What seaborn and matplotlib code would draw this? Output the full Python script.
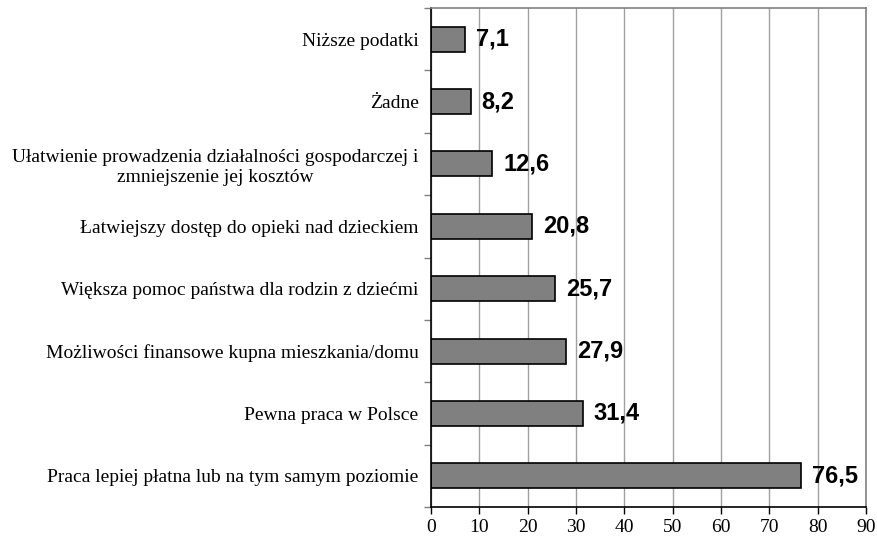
import matplotlib
matplotlib.use("Agg")
import matplotlib.pyplot as plt
import seaborn as sns
import pandas as pd
import numpy as np
from matplotlib.ticker import MultipleLocator, FixedLocator

categories = [
    "Niższe podatki",
    "Żadne",
    "Ułatwienie prowadzenia działalności gospodarczej i\nzmniejszenie jej kosztów",
    "Łatwiejszy dostęp do opieki nad dzieckiem",
    "Większa pomoc państwa dla rodzin z dziećmi",
    "Możliwości finansowe kupna mieszkania/domu",
    "Pewna praca w Polsce",
    "Praca lepiej płatna lub na tym samym poziomie",
]
values = [7.1, 8.2, 12.6, 20.8, 25.7, 27.9, 31.4, 76.5]
value_labels = ["7,1", "8,2", "12,6", "20,8", "25,7", "27,9", "31,4", "76,5"]

sns.set_style("white")
plt.rcParams["text.color"] = "black"
plt.rcParams["xtick.color"] = "black"
plt.rcParams["ytick.color"] = "black"
df = pd.DataFrame({"cat": categories, "val": values})

fig = plt.figure(figsize=(8.77, 5.37), dpi=100)
ax = fig.add_axes([431/877, 1-507/537, (866-431)/877, (507-8)/537])

sns.barplot(data=df, y="cat", x="val", orient="h", color="#808080",
            edgecolor="black", linewidth=1.2, width=0.4, saturation=1, ax=ax)

ax.set_xlim(0, 90)
ax.set_ylim(len(categories) - 0.5, -0.5)
ax.xaxis.set_major_locator(MultipleLocator(10))
ax.grid(axis="x", color="#a0a0a0", linewidth=1)
ax.set_axisbelow(True)
ax.set_xlabel("")
ax.set_ylabel("")

for i, (v, lab) in enumerate(zip(values, value_labels)):
    ax.annotate(lab, xy=(v, i), xytext=(8, 0), textcoords="offset points",
                ha="left", va="center", fontsize=17, fontweight="bold",
                family="Liberation Sans", color="black")

ax.set_yticks(range(len(categories)))
ax.set_yticklabels(categories, fontsize=14, family="Liberation Serif",
                   ha="right", multialignment="center", color="black")
ax.tick_params(axis="y", which="major", left=True, length=0, pad=9)
ax.yaxis.set_minor_locator(FixedLocator(np.arange(-0.5, len(categories), 1)))
ax.tick_params(axis="y", which="minor", left=True, length=5, width=1,
               color="#808080", direction="out")
ax.tick_params(axis="x", which="major", bottom=True, length=5, width=1,
               color="black", direction="out", labelsize=14, pad=4)
for lab in ax.get_xticklabels():
    lab.set_family("Liberation Serif")

for s in ["left", "bottom"]:
    ax.spines[s].set_color("black")
    ax.spines[s].set_linewidth(1.2)
for s in ["top", "right"]:
    ax.spines[s].set_color("#808080")
    ax.spines[s].set_linewidth(1.2)

fig.savefig("out.png", dpi=100)
